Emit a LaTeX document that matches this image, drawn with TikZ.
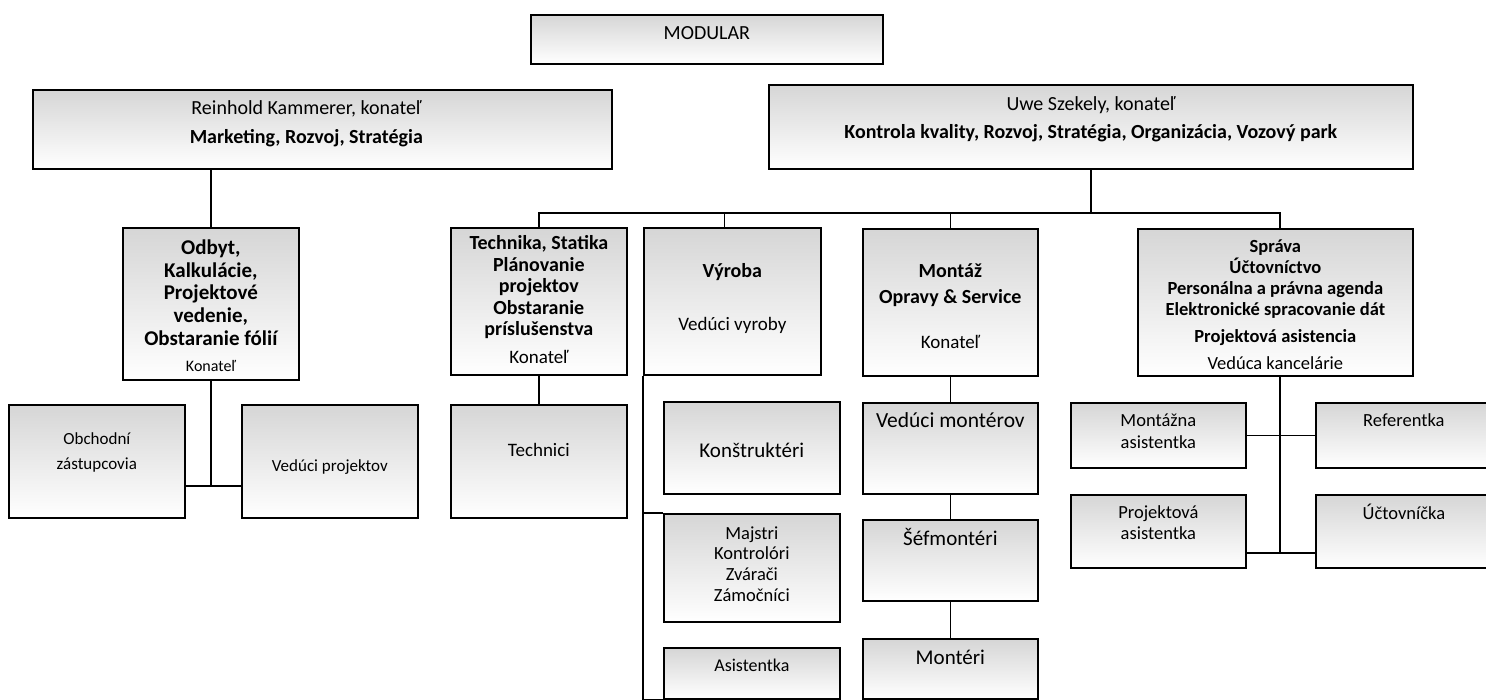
\documentclass[tikz,border=0pt]{standalone}
\usepackage{fontspec}
\setmainfont{Carlito}
\usepackage{tikz}
\usepackage{xcolor}
\definecolor{shadecolorc}{HTML}{C4C4C4}
\colorlet{washedcolorc}{shadecolorc!70!white}
\tikzstyle{orgbox} =[
    draw=black,
    line width=1.7pt,
    rectangle,
    anchor=north west,
    inner sep=0pt,
    top color=washedcolor,
    bottom color=white
    ]
\tikzstyle{orgline} = [
    draw=black,
    line width=1.7pt
    ]
\tikzstyle{headtext} = [
    font=\fontsize{20}{21.5}\selectfont\bfseries,
    align=center,
    inner sep=0pt
    ]
\tikzstyle{roletext} = [
    font=\fontsize{19}{22}\selectfont,
    align=center,
    inner sep=0pt
    ]
\colorlet{washedcolor}{washedcolorc}

\begin{document}
\begin{tikzpicture}[x=1pt,y=-1pt]
\useasboundingbox (0,0) rectangle (1486,700);
% top row
\node [orgbox, minimum width=352pt, minimum height=49pt] (modular) at (530,14) {};
\node [roletext, font=\fontsize{20}{22}\selectfont] (modular-t) at ([yshift=-19pt]modular.north) {MODULAR};
\node [orgbox, minimum width=579pt, minimum height=79pt] (reinhold) at (32,89) {};
\node [roletext, font=\fontsize{20}{22}\selectfont] (reinhold-t) at ([xshift=-16pt,yshift=-20pt]reinhold.north) {Reinhold Kammerer, konateľ};
\node [headtext] (reinhold-h) at ([xshift=-16pt,yshift=-49pt]reinhold.north) {Marketing, Rozvoj, Stratégia};
\node [orgbox, minimum width=644pt, minimum height=84pt] (uwe) at (768,84) {};
\node [roletext, font=\fontsize{20}{22}\selectfont] (uwe-t) at ([yshift=-21pt]uwe.north) {Uwe Szekely, konateľ};
\node [headtext] (uwe-h) at ([yshift=-49pt]uwe.north) {Kontrola kvality, Rozvoj, Stratégia, Organizácia, Vozový park};

% second row
\node [orgbox, minimum width=176pt, minimum height=152pt] (odbyt) at (122,227) {};
\node [headtext, font=\fontsize{21}{22.75}\selectfont\bfseries] (odbyt-h) at ([yshift=-65.5pt]odbyt.north) {Odbyt,\\Kalkulácie,\\Projektové\\vedenie,\\Obstaranie fólií};
\node [roletext, font=\fontsize{16}{18}\selectfont] (odbyt-t) at ([yshift=-139pt]odbyt.north) {Konateľ};
\node [orgbox, minimum width=176pt, minimum height=147pt] (technika) at (450,227) {};
\node [headtext] (technika-h) at ([yshift=-60.5pt]technika.north) {Technika, Statika\\Plánovanie\\projektov\\Obstaranie\\príslušenstva};
\node [roletext] (technika-t) at ([yshift=-130pt]technika.north) {Konateľ};
\node [orgbox, minimum width=177pt, minimum height=147pt] (vyroba) at (643,227) {};
\node [headtext] (vyroba-h) at ([yshift=-45pt]vyroba.north) {Výroba};
\node [roletext] (vyroba-t) at ([yshift=-98pt]vyroba.north) {Vedúci vyroby};
\node [orgbox, minimum width=175pt, minimum height=147pt] (montaz) at (862,228) {};
\node [headtext, font=\fontsize{20}{26}\selectfont\bfseries] (montaz-h) at ([yshift=-57pt]montaz.north) {Montáž\\Opravy \& Service};
\node [roletext] (montaz-t) at ([yshift=-114pt]montaz.north) {Konateľ};
\node [orgbox, minimum width=275pt, minimum height=147pt] (sprava) at (1137,228) {};
\node [headtext, font=\fontsize{18.5}{21}\selectfont\bfseries] (sprava-h) at ([yshift=-65pt]sprava.north) {Správa\\Účtovníctvo\\Personálna a právna agenda\\Elektronické spracovanie dát\\[6pt]Projektová asistencia};
\node [roletext, font=\fontsize{18.5}{21}\selectfont] (sprava-t) at ([yshift=-135pt]sprava.north) {Vedúca kancelárie};

% third row and below
\node [orgbox, minimum width=176pt, minimum height=113pt] (obchodni) at (8,404) {};
\node [roletext, font=\fontsize{17}{25}\selectfont] (obchodni-t) at ([yshift=-48.5pt]obchodni.north) {Obchodní\\zástupcovia};
\node [orgbox, minimum width=176pt, minimum height=113pt] (vedproj) at (241,404) {};
\node [roletext, font=\fontsize{17}{20}\selectfont] (vedproj-t) at ([yshift=-63pt]vedproj.north) {Vedúci projektov};
\node [orgbox, minimum width=176pt, minimum height=113pt] (technici) at (450,404) {};
\node [roletext] (technici-t) at ([yshift=-46pt]technici.north) {Technici};
\node [orgbox, minimum width=176pt, minimum height=92pt] (konstr) at (663,401) {};
\node [roletext, font=\fontsize{21}{24}\selectfont] (konstr-t) at ([yshift=-49pt]konstr.north) {Konštruktéri};
\node [orgbox, minimum width=176pt, minimum height=108pt] (majstri) at (663,513) {};
\node [roletext, font=\fontsize{18.5}{20.7}\selectfont] (majstri-t) at ([yshift=-51pt]majstri.north) {Majstri\\Kontrolóri\\Zvárači\\Zámočníci};
\node [orgbox, minimum width=176pt, minimum height=51pt] (asist) at (663,647) {};
\node [roletext, font=\fontsize{18}{20}\selectfont] (asist-t) at ([yshift=-18pt]asist.north) {Asistentka};
\node [orgbox, minimum width=175pt, minimum height=91pt] (vedmont) at (862,402) {};
\node [roletext, font=\fontsize{21.5}{24}\selectfont] (vedmont-t) at ([yshift=-18pt]vedmont.north) {Vedúci montérov};
\node [orgbox, minimum width=175pt, minimum height=81pt] (sefmont) at (862,519) {};
\node [roletext, font=\fontsize{21}{24}\selectfont] (sefmont-t) at ([yshift=-18pt]sefmont.north) {Šéfmontéri};
\node [orgbox, minimum width=175pt, minimum height=60pt] (monteri) at (862,638) {};
\node [roletext, font=\fontsize{21}{24}\selectfont] (monteri-t) at ([yshift=-19pt]monteri.north) {Montéri};
\node [orgbox, minimum width=175pt, minimum height=65pt] (montasist) at (1070,402) {};
\node [roletext, font=\fontsize{18.5}{22}\selectfont] (montasist-t) at ([yshift=-29pt]montasist.north) {Montážna\\asistentka};
\node [orgbox, minimum width=176pt, minimum height=65pt] (referentka) at (1315,402) {};
\node [roletext, font=\fontsize{18.5}{22}\selectfont] (referentka-t) at ([yshift=-18pt]referentka.north) {Referentka};
\node [orgbox, minimum width=175pt, minimum height=73pt] (projasist) at (1070,494) {};
\node [roletext, font=\fontsize{18.5}{21}\selectfont] (projasist-t) at ([yshift=-28.5pt]projasist.north) {Projektová\\asistentka};
\node [orgbox, minimum width=176pt, minimum height=73pt] (uctov) at (1315,494) {};
\node [roletext, font=\fontsize{18.5}{22}\selectfont] (uctov-t) at ([yshift=-18pt]uctov.north) {Účtovníčka};

% connectors
\coordinate (busleft) at (technika.north |- 0,213);
\coordinate (busright) at (1280,213);
\coordinate (vyrobatop) at ([xshift=-8pt]vyroba.north);
\coordinate (odbytjoin) at ([yshift=-105pt]odbyt.south);
\coordinate (spravajoin) at (busright |- 0,553);
\draw [orgline] (odbyt.north) -- (odbyt.north |- reinhold.south);
\draw [orgline] (odbyt.south) -- (odbytjoin);
\draw [orgline] (obchodni.east |- odbytjoin) -- (vedproj.west |- odbytjoin);
\draw [orgline] (uwe.south) -- (uwe.south |- busleft);
\draw [orgline] (technika.north) -- (busleft) -- (busright) -- (busright |- sprava.north);
\draw [orgline] (vyrobatop) -- (vyrobatop |- busleft);
\draw [orgline] (montaz.north) -- (montaz.north |- busleft);
\draw [orgline] (technika.south) -- (technici.north);
\draw [orgline] (vyroba.south west) |- (majstri.north west);
\draw [orgline] (vyroba.south west) |- (asist.south west);
\draw [orgline] (montaz.south) -- (vedmont.north);
\draw [orgline] (vedmont.south) -- (sefmont.north);
\draw [orgline] (sefmont.south) -- (monteri.north);
\draw [orgline] (busright |- sprava.south) -- (spravajoin);
\draw [orgline] (montasist.east) -- (referentka.west);
\draw [orgline] (projasist.east |- spravajoin) -- (uctov.west |- spravajoin);
\end{tikzpicture}
\end{document}
